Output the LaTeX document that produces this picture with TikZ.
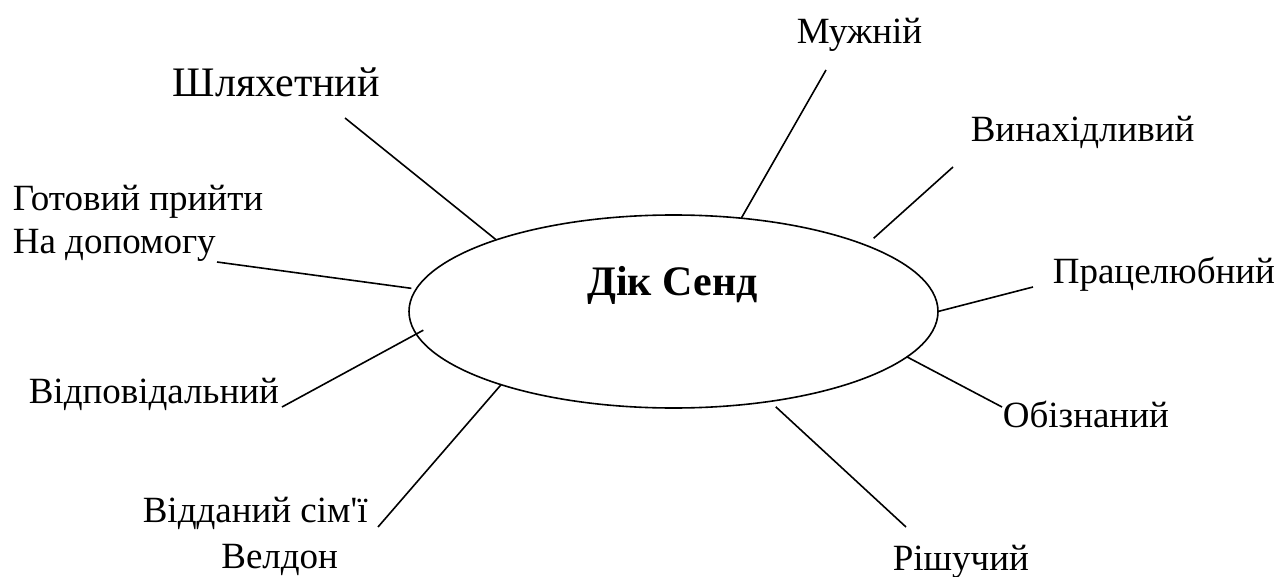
\documentclass[tikz,border=0pt]{standalone}
\usepackage{fontspec}
\newfontfamily\lbfont{Liberation Serif}
\usetikzlibrary{shapes.geometric}
\tikzset
{
    word/.style    = {font=\lbfont\fontsize{37}{44}\selectfont, inner sep=0pt, anchor=base west},
    bigword/.style = {font=\lbfont\fontsize{42}{50}\selectfont, inner sep=0pt, anchor=base west},
    hero/.style    = {ellipse, draw=black, line width=1.6pt, minimum width=529pt, minimum height=193pt, inner sep=0pt, outer sep=0pt}
}
\begin{document}
\begin{tikzpicture}[x=1pt, y=-1pt, line width=1.6pt]
\useasboundingbox (0,0) rectangle (1281,577);
\node [hero] at (673.5,311.5) (ell) {};
\node [bigword, anchor=base, font=\lbfont\bfseries\fontsize{42}{50}\selectfont] at (672.5,295) (dick) {Дік Сенд};
\node [bigword] at (172,97) (shl) {Шляхетний};
\node [word] at (796,44) (muz) {Мужній};
\node [word] at (970,142) (vyn) {Винахідливий};
\node [word] at (1052,283) (pra) {Працелюбний};
\node [word] at (1002,427) (obi) {Обізнаний};
\node [word] at (892,570) (rish) {Рішучий};
\node [word, align=left, font=\lbfont\fontsize{37}{43}\selectfont] at (12,253) (got) {Готовий прийти\\На допомогу};
\node [word] at (28,403) (vidp) {Відповідальний};
\node [word, align=center, font=\lbfont\fontsize{37}{46}\selectfont] at (142,568) (vidd) {Відданий сім'ї\\\hspace*{49pt}Велдон};
\coordinate (shl0) at (345,118);
\coordinate (muz0) at (826,70);
\coordinate (vyn0) at (953,167);
\coordinate (pra0) at (1033,287);
\coordinate (obi0) at (1002,407);
\coordinate (rish0) at (906,527);
\coordinate (got0) at (217,262);
\coordinate (vidp0) at (282,407);
\coordinate (vidd0) at (378,527);
\draw (shl0) edge (ell.158);
\draw (muz0) edge (ell.54);
\draw (vyn0) edge[shorten >=10.5pt] (ell.19);
\draw (pra0) edge (ell.0);
\draw (obi0) edge (ell.349);
\draw (rish0) edge[shorten >=8pt] (ell.317);
\draw (got0) edge[shorten >=5pt] (ell.175);
\draw (vidp0) edge[shorten >=-8pt] (ell.185);
\draw (vidd0) edge (ell.203);
\end{tikzpicture}
\end{document}
